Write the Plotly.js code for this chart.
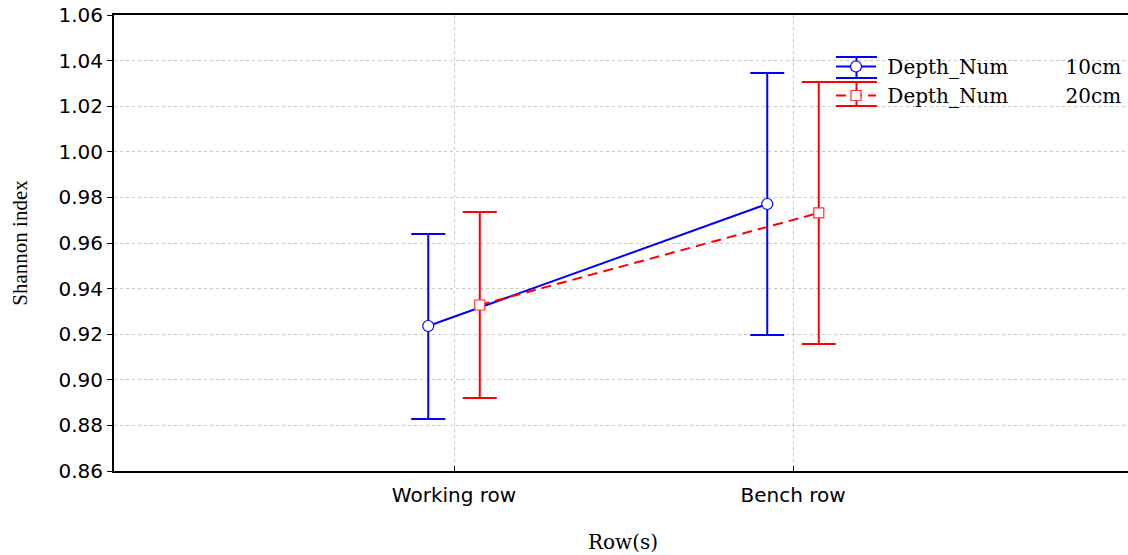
<!DOCTYPE html>
<html>
<head>
<meta charset="utf-8">
<script src="https://cdn.plot.ly/plotly-3.0.1.min.js"></script>
<style>
  html, body { margin: 0; padding: 0; background: #fff; overflow: hidden; }
  #chart { width: 1132px; height: 555px; }
</style>
</head>
<body>
<div id="chart"></div>
<script>
// Shannon diversity by row type and sampling depth (mean with interval bounds)
const categories = ['Working row', 'Bench row'];
const yTicks = [0.86, 0.88, 0.90, 0.92, 0.94, 0.96, 0.98, 1.00, 1.02, 1.04, 1.06];

const mean10 = [0.9236, 0.9771];
const upper10 = [0.9639, 1.0346];
const lower10 = [0.8828, 0.9196];

const mean20 = [0.9328, 0.9732];
const upper20 = [0.9736, 1.0306];
const lower20 = [0.8920, 0.9157];

const gap = '\u00a0'.repeat(9);
const seriesNames = ['\u00a0Depth_Num' + gap + '10cm', '\u00a0Depth_Num' + gap + '20cm'];

// horizontal dodge between the two depth series within each category
const dodge = 0.076;
const idx = categories.map((_, i) => i);

function errBars(mean, up, lo, color) {
  return {
    type: 'data', symmetric: false,
    array: up.map((u, i) => u - mean[i]),
    arrayminus: lo.map((l, i) => mean[i] - l),
    color: color, thickness: 2, width: 17, visible: true
  };
}

const blue = '#0000ff';
const red = '#ff0000';

const traces = [
  {
    x: idx.map(i => i - dodge), y: mean10, name: seriesNames[0],
    type: 'scatter', mode: 'lines+markers',
    line: { color: blue, width: 2 },
    marker: { symbol: 'circle', size: 11, color: '#ffffff', line: { color: blue, width: 1.2 } },
    error_y: errBars(mean10, upper10, lower10, blue)
  },
  {
    x: idx.map(i => i + dodge), y: mean20, name: seriesNames[1],
    type: 'scatter', mode: 'lines+markers',
    line: { color: red, width: 2, dash: '10px,6px' },
    marker: { symbol: 'square', size: 10, color: '#ffffff', line: { color: '#ff3030', width: 1.2 } },
    error_y: errBars(mean20, upper20, lower20, red)
  }
];

// plot frame in page pixels (the frame runs slightly past the visible page on the right)
const L = 114, T = 15, B = 84, W = 1132, H = 555;
const pw = W - L, ph = H - T - B;
const px = v => (v - L) / pw;
const py = v => (H - B - v) / ph;

// error-bar caps for the legend glyphs
function legendCaps(x0, x1, yTop, yBot, color) {
  const xm = (x0 + x1) / 2;
  const ln = { color: color, width: 2 };
  return [
    { type: 'line', xref: 'paper', yref: 'paper', x0: px(x0), x1: px(x1), y0: py(yTop), y1: py(yTop), line: ln },
    { type: 'line', xref: 'paper', yref: 'paper', x0: px(x0), x1: px(x1), y0: py(yBot), y1: py(yBot), line: ln },
    { type: 'line', xref: 'paper', yref: 'paper', x0: px(xm), x1: px(xm), y0: py(yTop), y1: py(yBot), line: ln, layer: 'below' }
  ];
}

const layout = {
  width: W, height: H,
  margin: { l: L, r: 0, t: T, b: B, pad: 0 },
  paper_bgcolor: '#ffffff', plot_bgcolor: '#ffffff',
  showlegend: true,
  legend: {
    x: px(831), y: py(47), xanchor: 'left', yanchor: 'top',
    bgcolor: 'rgba(0,0,0,0)', borderwidth: 0,
    font: { family: 'DejaVu Serif', size: 20, color: '#000' },
    itemwidth: 40, tracegroupgap: 0
  },
  xaxis: {
    range: [-1.003, 2.0],
    tickmode: 'array', tickvals: idx, ticktext: categories,
    ticks: 'inside', ticklen: 5, tickcolor: '#000', tickwidth: 1,
    ticklabelstandoff: 5,
    showline: true, linecolor: '#000', linewidth: 2, mirror: true,
    showgrid: true, gridcolor: '#c8c8c8', gridwidth: 1, griddash: 'dot',
    zeroline: false,
    tickfont: { family: 'DejaVu Sans', size: 20, color: '#000' },
    title: { text: 'Row(s)', font: { family: 'DejaVu Serif', size: 20, color: '#000' }, standoff: 29 },
    automargin: false
  },
  yaxis: {
    range: [0.86, 1.06],
    tickmode: 'array', tickvals: yTicks, ticktext: yTicks.map(v => v.toFixed(2)),
    ticks: 'outside', ticklen: 5, tickcolor: '#000', tickwidth: 1,
    showline: true, linecolor: '#000', linewidth: 2, mirror: false,
    showgrid: true, gridcolor: '#c8c8c8', gridwidth: 1, griddash: 'dot',
    zeroline: false,
    tickfont: { family: 'DejaVu Sans', size: 20, color: '#000' },
    title: { text: 'Shannon index', font: { family: 'Liberation Serif', size: 21, color: '#000' }, standoff: 25 },
    automargin: false
  },
  shapes: [].concat(legendCaps(836, 877, 57, 78, blue), legendCaps(836, 877, 82, 106, red))
};

Plotly.newPlot('chart', traces, layout, { staticPlot: true, displayModeBar: false });
</script>
</body>
</html>
